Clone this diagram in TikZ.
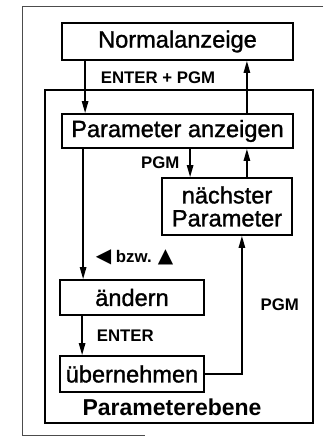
\documentclass[tikz,border=0pt]{standalone}
\usepackage{fontspec}
\setmainfont{Liberation Sans}
\newfontfamily\symbfont{DejaVu Sans}
\newfontfamily\kastenfont[FakeBold=1.2]{Liberation Sans}
\usetikzlibrary{arrows.meta, positioning}

\begin{document}
\begin{tikzpicture}[x=0.5pt, y=-0.5pt,
            kasten/.style={rectangle, draw, line width=0.9pt, inner sep=0pt, align=center, font=\kastenfont\fontsize{11.8}{11.5}\selectfont},
            pfeil/.style={-{Triangle[length=6pt, width=3.2pt]}, line width=0.75pt},
            marke/.style={font=\fontsize{8.4}{9}\selectfont\bfseries, inner sep=0pt}]

            \useasboundingbox (0,0) rectangle (323,437);

            % Rahmen
            \draw[line width=0.5pt, black!70] (323,7) -- (22,7) -- (22,435) -- (145,435);
            \node[rectangle, draw, line width=0.75pt, minimum width=134pt, minimum height=166.5pt] (ebene) at (179,256.5) {};
            \node[font=\fontsize{11.5}{12}\selectfont\bfseries, anchor=south, inner sep=0pt] (ebenetext) at ([xshift=-3.5pt, yshift=4pt]ebene.south) {Parameterebene};

            % Zustaende
            \node[kasten, minimum width=115.5pt, minimum height=18.5pt] (norm) at (177.5,41.5) {Normalanzeige};
            \node[kasten, minimum width=115.5pt, minimum height=17pt] (anz) at (177.5,131) {Parameter anzeigen};
            \node[kasten, minimum width=65pt, minimum height=28.5pt] (next) at (227,206.5) {nächster\\Parameter};
            \node[kasten, minimum width=72pt, minimum height=17.5pt] (aend) at (132,297.5) {ändern};
            \node[kasten, minimum width=72pt, minimum height=18pt] (uebn) at (132,374) {übernehmen};

            % Uebergaenge
            \draw[pfeil] ([xshift=12pt]norm.south west) -- ([xshift=12pt]anz.north west);
            \draw[pfeil] ([xshift=-23.5pt]anz.north east) -- ([xshift=-23.5pt]norm.south east);
            \node[marke] (entpgm) at (158,78) {ENTER + PGM};

            \draw[pfeil] ([xshift=14.5pt]next.north west |- anz.south) -- node[marke, left=5pt] (pgmoben) {PGM} ([xshift=14.5pt]next.north west);
            \draw[pfeil] ([xshift=-23.5pt]anz.south east |- next.north) -- ([xshift=-23.5pt]anz.south east);

            \draw[pfeil] ([xshift=11pt]anz.south west) -- node[marke, pos=0.83, right=6pt] (taste) {{\symbfont\fontsize{10}{10}\selectfont ◀} bzw. {\symbfont\fontsize{10}{10}\selectfont ▲}} ([xshift=11pt]anz.south west |- aend.north);
            \draw[pfeil] ([xshift=11.5pt]aend.south west) -- node[marke, right=7pt] (enter) {ENTER} ([xshift=11.5pt]uebn.north west);

            \draw[pfeil] (uebn.east) -| node[marke, pos=0.75, right=9pt] (pgmunten) {PGM} ([xshift=-25.5pt]next.south east);
        \end{tikzpicture}
\end{document}
